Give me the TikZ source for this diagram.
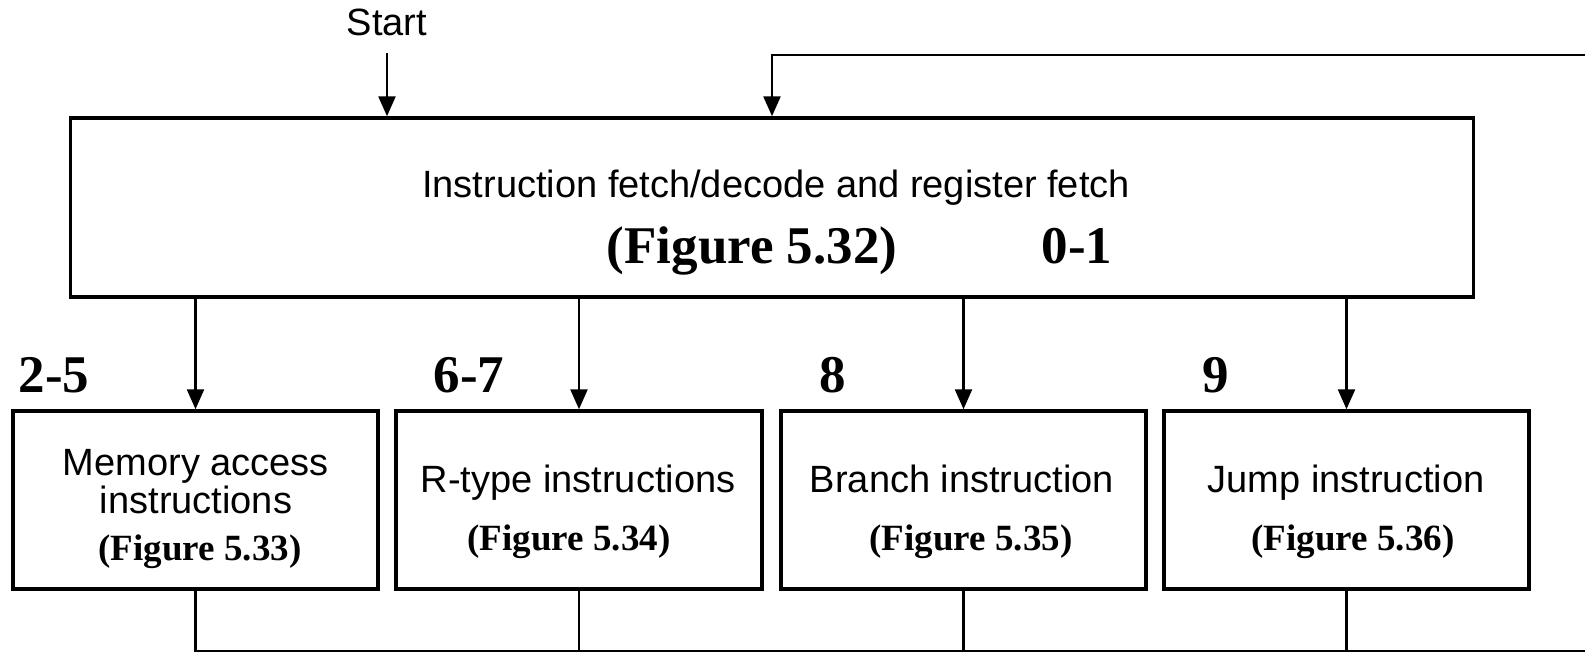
\documentclass[tikz,border=0pt]{standalone}
\usepackage{fontspec}
\setmainfont{Liberation Serif}
\newfontfamily\labelsans{Liberation Sans}
\usetikzlibrary{arrows.meta}

\tikzset{
  stagebox/.style={draw, line width=3.5pt, inner sep=0pt, minimum width=#1, minimum height=178pt},
  stagebox/.default=365pt,
  flow/.style={line width=2.5pt, -{Triangle[length=20pt,width=17pt]}},
  wire/.style={line width=2.5pt},
  plain/.style={font=\labelsans\fontsize{38}{42}\selectfont, inner sep=0pt, anchor=base},
  figref/.style={font=\bfseries\fontsize{37}{40}\selectfont, inner sep=0pt, anchor=base},
  bigref/.style={font=\bfseries\fontsize{53}{56}\selectfont, inner sep=0pt, anchor=base},
}

\begin{document}
\begin{tikzpicture}[x=1pt,y=-1pt]
\useasboundingbox (0,0) rectangle (1585,653);

% main decode stage
\node[stagebox=1403pt, minimum height=179pt] (fetch) at (772,207.5) {};
\node[plain] (fetchtxt) at (776,197) {Instruction fetch/decode and register fetch};
\node[bigref] (fetchfig) at (752,263) {(Figure 5.32)};
\node[bigref] (fetchnum) at (1077,263) {0-1};

% start entry
\node[plain] (start) at (387,35) {Start};
\coordinate (startbot) at (387,53);
\draw[flow] (startbot) -- (startbot |- fetch.north);

% return path into the decode stage
\coordinate (loopR) at (1585,55);
\draw[flow] (loopR) -| (fetch.north);

% execution stages
\node[stagebox] (mem) at (195.5,500) {};
\node[stagebox=366pt] (rtype) at (579,500) {};
\node[stagebox] (branch) at (963.5,500) {};
\node[stagebox] (jump) at (1346.5,500) {};

\node[plain] (memA) at (196,475) {Memory access};
\node[plain] (memB) at (196,513) {instructions};
\node[figref] (memfig) at (200,560) {(Figure 5.33)};

\node[plain] (rtypeA) at (578,492) {R-type instructions};
\node[figref] (rtypefig) at (569,550) {(Figure 5.34)};

\node[plain] (branchA) at (962,492) {Branch instruction};
\node[figref] (branchfig) at (971,550) {(Figure 5.35)};

\node[plain] (jumpA) at (1346,492) {Jump instruction};
\node[figref] (jumpfig) at (1353,550) {(Figure 5.36)};

% state numbers
\node[bigref] (n25) at (54,392) {2-5};
\node[bigref] (n67) at (469,392) {6-7};
\node[bigref] (n8) at (833,392) {8};
\node[bigref] (n9) at (1216,392) {9};

% dispatch arrows
\draw[flow] (mem.north |- fetch.south) -- (mem.north);
\draw[flow] (rtype.north |- fetch.south) -- (rtype.north);
\draw[flow] (branch.north |- fetch.south) -- (branch.north);
\draw[flow] (jump.north |- fetch.south) -- (jump.north);

% return bus
\coordinate (busR) at (1585,651);
\draw[wire] (mem.south) |- (busR);
\draw[wire] (rtype.south) -- (rtype.south |- busR);
\draw[wire] (branch.south) -- (branch.south |- busR);
\draw[wire] (jump.south) -- (jump.south |- busR);
\end{tikzpicture}
\end{document}
